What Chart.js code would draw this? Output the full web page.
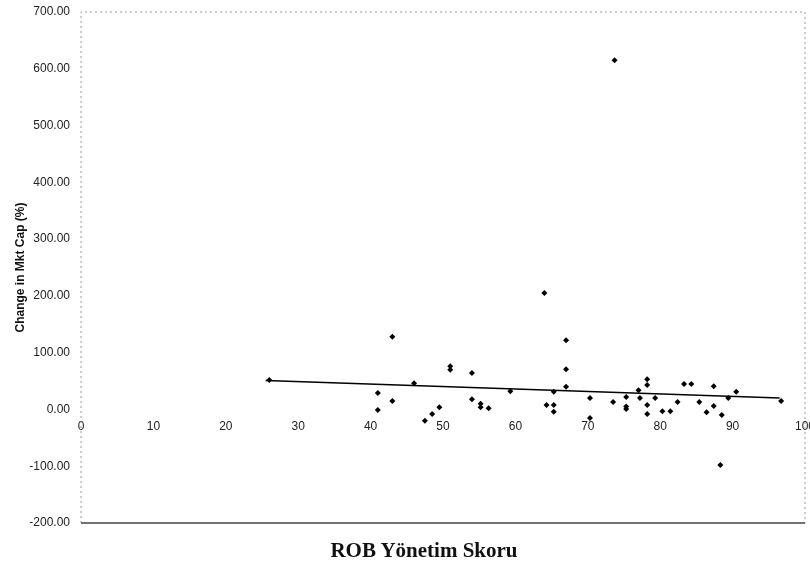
<!DOCTYPE html>
<html>
<head>
<meta charset="utf-8">
<script src="https://cdn.jsdelivr.net/npm/chart.js@4.4.0/dist/chart.umd.min.js"></script>
<style>
  html, body { margin: 0; padding: 0; background: #fff; }
  #wrap { position: relative; width: 810px; height: 566px; }
  #xTitle {
    position: absolute; left: 314px; top: 538px; width: 220px;
    font: bold 21px "Liberation Serif", "Times New Roman", serif;
    color: #111; text-align: center; white-space: nowrap;
  }
</style>
</head>
<body>
<div id="wrap">
  <canvas id="chart" width="810" height="566"></canvas>
  <div id="xTitle">ROB Yönetim Skoru</div>
</div>
<script>
// scores and market cap change
const scores = [26, 41, 41, 43, 43, 46, 47.5, 48.5, 49.5, 51, 51, 54, 54, 55.2, 55.2,
  56.3, 59.3, 64, 64.3, 65.3, 65.3, 65.3, 67, 67, 67, 70.3, 70.3, 73.7, 73.5, 75.3,
  75.3, 75.3, 77, 77.2, 78.2, 78.2, 78.2, 78.2, 79.3, 80.3, 81.4, 82.4, 83.3, 84.3,
  85.4, 86.4, 87.4, 87.4, 88.5, 88.3, 89.4, 90.5, 96.7];
const capChange = [52, 29, -1, 128, 15, 46, -20, -8, 4, 76, 70, 64, 18, 10, 4,
  2, 32, 205, 8, 8, -4, 31, 122, 71, 40, 20, -15, 615, 13, 22,
  5, 1, 34, 20, 53, 43, 8, -8, 20, -3, -3, 13, 45, 45,
  13, -5, 41, 6, -10, -98, 20, 31, 15];

// linear trendline ends
const trendX = [25.5, 96.5];
const trendY = [51, 20];

const yTicks = [-200, -100, 0, 100, 200, 300, 400, 500, 600, 700];
const xTicks = [0, 10, 20, 30, 40, 50, 60, 70, 80, 90, 100];

const frame = {
  id: 'frame',
  beforeDatasetsDraw(chart) {
    const { ctx, chartArea: a } = chart;
    ctx.save();
    ctx.strokeStyle = '#999';
    ctx.lineWidth = 1;
    ctx.setLineDash([2, 3]);
    ctx.beginPath();
    ctx.moveTo(a.left, a.bottom); ctx.lineTo(a.left, a.top);
    ctx.lineTo(a.right, a.top); ctx.lineTo(a.right, a.bottom);
    ctx.stroke();
    ctx.setLineDash([]);
    ctx.strokeStyle = '#444';
    ctx.lineWidth = 1.5;
    ctx.beginPath();
    ctx.moveTo(a.left, a.bottom); ctx.lineTo(a.right, a.bottom);
    ctx.stroke();
    ctx.restore();
  }
};

new Chart(document.getElementById('chart'), {
  data: {
    datasets: [
      {
        type: 'scatter',
        data: scores.map((s, i) => ({ x: s, y: capChange[i] })),
        pointStyle: 'rectRot',
        pointRadius: 3,
        backgroundColor: '#000',
        borderColor: '#000',
        borderWidth: 0
      },
      {
        type: 'line',
        data: trendX.map((s, i) => ({ x: s, y: trendY[i] })),
        borderColor: '#000',
        borderWidth: 1.5,
        pointRadius: 0
      }
    ]
  },
  options: {
    responsive: false,
    animation: false,
    layout: { padding: { left: 0, right: 5, top: 12, bottom: 43 } },
    plugins: { legend: { display: false }, tooltip: { enabled: false } },
    scales: {
      x: {
        type: 'linear',
        position: { y: 0 },
        min: 0, max: 100,
        afterBuildTicks: s => { s.ticks = xTicks.map(v => ({ value: v })); },
        afterFit: s => { s.paddingLeft = 0; s.paddingRight = 0; },
        grid: { display: false },
        border: { display: false },
        ticks: { color: '#222', font: { family: 'Liberation Sans, Arial', size: 12 }, padding: 2 }
      },
      y: {
        type: 'linear',
        min: -200, max: 700,
        afterBuildTicks: s => { s.ticks = yTicks.map(v => ({ value: v })); },
        afterFit: s => { s.width = 81; s.paddingTop = 0; s.paddingBottom = 0; },
        grid: { display: false },
        border: { display: false },
        ticks: {
          color: '#222', padding: 3,
          font: { family: 'Liberation Sans, Arial', size: 12 },
          callback: v => v.toFixed(2)
        },
        title: {
          display: true, text: 'Change in Mkt Cap (%)', color: '#111',
          font: { family: 'Liberation Sans, Arial', size: 12, weight: 'bold' },
          padding: { top: 13 }
        }
      }
    }
  },
  plugins: [frame]
});
</script>
</body>
</html>
